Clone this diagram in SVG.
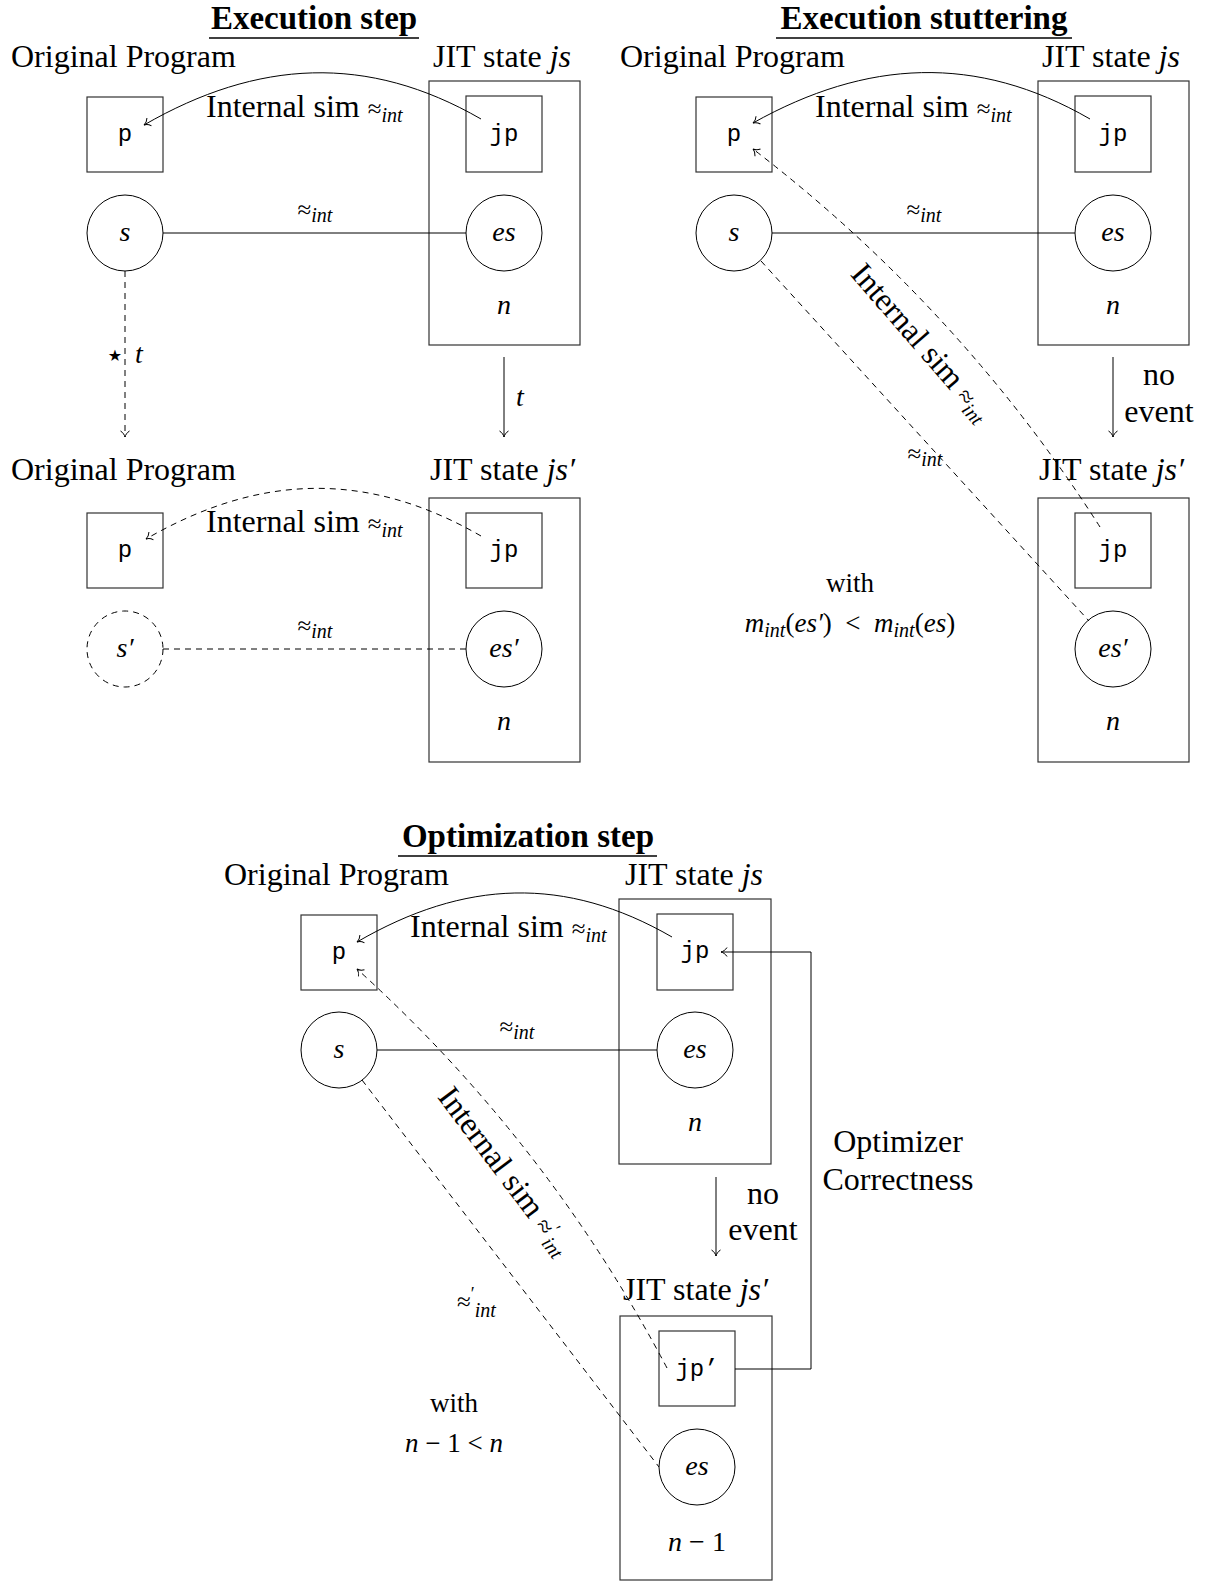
<svg xmlns="http://www.w3.org/2000/svg" width="1213" height="1581" viewBox="0 0 1213 1581">
<style>
.t{font-family:"Liberation Serif","DejaVu Serif",serif;font-size:32px;fill:#000}
.ti{font-style:italic}
.sm{font-size:28px}
.xs{font-size:27px}
.m{font-family:"Liberation Mono","DejaVu Sans Mono",monospace;font-size:24px;fill:#000}
.b{font-weight:bold;font-size:33px}
.sub{font-size:20px;font-style:italic}
.apx{font-size:25px;font-style:normal}
.box{fill:none;stroke:#333;stroke-width:1.2}
.ln{fill:none;stroke:#000;stroke-width:1}
.dash{stroke-dasharray:6 5}
.ul{stroke:#000;stroke-width:1.4}
</style>
<defs>
<marker id="arr" markerUnits="userSpaceOnUse" orient="auto" refX="0" refY="0" markerWidth="12" markerHeight="12" overflow="visible">
<path d="M-6,-4.5 C-4.5,-2 -2,-0.5 0,0 C-2,0.5 -4.5,2 -6,4.5" fill="none" stroke="#000" stroke-width="1"/>
</marker>
</defs>
<rect width="1213" height="1581" fill="#fff"/>

<!-- ===== Panel 1: Execution step ===== -->
<g id="title-exec-step">
<text class="t b" x="314" y="29" text-anchor="middle">Execution step</text>
<line class="ul" x1="209" y1="38" x2="419" y2="38"/>
</g>
<g id="p1-orig-label"><text class="t" x="11" y="67">Original Program</text></g>
<g id="p1-js"><text class="t" x="433" y="67">JIT state <tspan class="ti">js</tspan></text>
<rect class="box" x="429" y="81" width="151" height="264"/></g>
<g id="p1-p"><rect class="box" x="87" y="97" width="76" height="75"/><text class="m" x="125" y="141" text-anchor="middle">p</text></g>
<g id="p1-jp"><rect class="box" x="466" y="96" width="76" height="76"/><text class="m" x="504" y="141" text-anchor="middle">jp</text></g>
<g id="p1-s"><circle class="ln" cx="125" cy="233" r="38"/><text class="t ti sm" x="125" y="241" text-anchor="middle">s</text></g>
<g id="p1-es"><circle class="ln" cx="504" cy="233" r="38"/><text class="t ti sm" x="504" y="241" text-anchor="middle">es</text></g>
<g id="p1-n"><text class="t ti sm" x="504" y="314" text-anchor="middle">n</text></g>

<g id="p1b-orig-label"><text class="t" x="11" y="480">Original Program</text></g>
<g id="p1b-js"><text class="t" x="430" y="480">JIT state <tspan class="ti">js′</tspan></text>
<rect class="box" x="429" y="498" width="151" height="264"/></g>
<g id="p1b-p"><rect class="box" x="87" y="513" width="76" height="75"/><text class="m" x="125" y="557" text-anchor="middle">p</text></g>
<g id="p1b-jp"><rect class="box" x="466" y="513" width="76" height="75"/><text class="m" x="504" y="557" text-anchor="middle">jp</text></g>
<g id="p1b-s"><circle class="ln dash" cx="125" cy="649" r="38"/><text class="t ti sm" x="125" y="657" text-anchor="middle">s′</text></g>
<g id="p1b-es"><circle class="ln" cx="504" cy="649" r="38"/><text class="t ti sm" x="504" y="657" text-anchor="middle">es′</text></g>
<g id="p1b-n"><text class="t ti sm" x="504" y="730" text-anchor="middle">n</text></g>

<!-- ===== Panel 2: Execution stuttering ===== -->
<g id="title-exec-stutter">
<text class="t b" x="924" y="29" text-anchor="middle">Execution stuttering</text>
<line class="ul" x1="776" y1="38" x2="1072" y2="38"/>
</g>
<g id="p2-orig-label"><text class="t" x="620" y="67">Original Program</text></g>
<g id="p2-js"><text class="t" x="1042" y="67">JIT state <tspan class="ti">js</tspan></text>
<rect class="box" x="1038" y="81" width="151" height="264"/></g>
<g id="p2-p"><rect class="box" x="696" y="97" width="76" height="75"/><text class="m" x="734" y="141" text-anchor="middle">p</text></g>
<g id="p2-jp"><rect class="box" x="1075" y="96" width="76" height="76"/><text class="m" x="1113" y="141" text-anchor="middle">jp</text></g>
<g id="p2-s"><circle class="ln" cx="734" cy="233" r="38"/><text class="t ti sm" x="734" y="241" text-anchor="middle">s</text></g>
<g id="p2-es"><circle class="ln" cx="1113" cy="233" r="38"/><text class="t ti sm" x="1113" y="241" text-anchor="middle">es</text></g>
<g id="p2-n"><text class="t ti sm" x="1113" y="314" text-anchor="middle">n</text></g>

<g id="p2b-js"><text class="t" x="1039" y="480">JIT state <tspan class="ti">js′</tspan></text>
<rect class="box" x="1038" y="498" width="151" height="264"/></g>
<g id="p2b-jp"><rect class="box" x="1075" y="513" width="76" height="75"/><text class="m" x="1113" y="557" text-anchor="middle">jp</text></g>
<g id="p2b-es"><circle class="ln" cx="1113" cy="649" r="38"/><text class="t ti sm" x="1113" y="657" text-anchor="middle">es′</text></g>
<g id="p2b-n"><text class="t ti sm" x="1113" y="730" text-anchor="middle">n</text></g>
<g id="p2-with">
<text class="t xs" x="850" y="592" text-anchor="middle">with</text>
<text class="t xs" x="850" y="632" text-anchor="middle"><tspan class="ti">m</tspan><tspan class="sub" dy="5">int</tspan><tspan dy="-5">(</tspan><tspan class="ti">es′</tspan>)&#160; &lt; &#160;<tspan class="ti">m</tspan><tspan class="sub" dy="5">int</tspan><tspan dy="-5">(</tspan><tspan class="ti">es</tspan>)</text>
</g>

<!-- ===== Panel 3: Optimization step ===== -->
<g id="title-opt-step">
<text class="t b" x="528" y="847" text-anchor="middle">Optimization step</text>
<line class="ul" x1="398" y1="856" x2="657" y2="856"/>
</g>
<g id="p3-orig-label"><text class="t" x="224" y="885">Original Program</text></g>
<g id="p3-js"><text class="t" x="625" y="885">JIT state <tspan class="ti">js</tspan></text>
<rect class="box" x="619" y="899" width="152" height="265"/></g>
<g id="p3-p"><rect class="box" x="301" y="915" width="76" height="75"/><text class="m" x="339" y="959" text-anchor="middle">p</text></g>
<g id="p3-jp"><rect class="box" x="657" y="914" width="76" height="76"/><text class="m" x="695" y="958" text-anchor="middle">jp</text></g>
<g id="p3-s"><circle class="ln" cx="339" cy="1050" r="38"/><text class="t ti sm" x="339" y="1058" text-anchor="middle">s</text></g>
<g id="p3-es"><circle class="ln" cx="695" cy="1050" r="38"/><text class="t ti sm" x="695" y="1058" text-anchor="middle">es</text></g>
<g id="p3-n"><text class="t ti sm" x="695" y="1131" text-anchor="middle">n</text></g>

<g id="p3b-js"><text class="t" x="623" y="1300">JIT state <tspan class="ti">js′</tspan></text>
<rect class="box" x="620" y="1316" width="152" height="264"/></g>
<g id="p3b-jp"><rect class="box" x="659" y="1331" width="76" height="75"/><text class="m" x="697" y="1376" text-anchor="middle">jp’</text></g>
<g id="p3b-es"><circle class="ln" cx="697" cy="1467" r="38"/><text class="t ti sm" x="697" y="1475" text-anchor="middle">es</text></g>
<g id="p3b-n"><text class="t sm" x="697" y="1551" text-anchor="middle"><tspan class="ti">n</tspan> − 1</text></g>
<g id="p3-with">
<text class="t xs" x="454" y="1412" text-anchor="middle">with</text>
<text class="t xs" x="454" y="1452" text-anchor="middle"><tspan class="ti">n</tspan> − 1 &lt; <tspan class="ti">n</tspan></text>
</g>
<g id="p3-optlabel">
<text class="t" x="898" y="1152" text-anchor="middle">Optimizer</text>
<text class="t" x="898" y="1190" text-anchor="middle">Correctness</text>
</g>

<!-- ===== Connectors ===== -->
<g id="connectors">
<!-- panel 1 -->
<path class="ln" d="M481,119 C367.5,53.5 257.5,59.5 144,125" marker-end="url(#arr)"/>
<text class="t" x="206" y="117">Internal sim <tspan class="apx">≈</tspan><tspan class="sub" dy="5">int</tspan></text>
<line class="ln" x1="163" y1="233" x2="466" y2="233"/>
<text class="t" x="315" y="218" text-anchor="middle"><tspan class="apx">≈</tspan><tspan class="sub" dy="4">int</tspan></text>
<line class="ln dash" x1="125" y1="271" x2="125" y2="437" marker-end="url(#arr)"/>
<text x="115" y="361" text-anchor="middle" style="font-family:'DejaVu Sans',sans-serif;font-size:16px">★</text>
<text class="t ti sm" x="135" y="363">t</text>
<line class="ln" x1="504" y1="357" x2="504" y2="437" marker-end="url(#arr)"/>
<text class="t ti sm" x="516" y="406">t</text>

<path class="ln dash" d="M481,536 C367.5,470.5 259.5,473.5 146,539" marker-end="url(#arr)"/>
<text class="t" x="206" y="532">Internal sim <tspan class="apx">≈</tspan><tspan class="sub" dy="5">int</tspan></text>
<line class="ln dash" x1="163" y1="649" x2="466" y2="649"/>
<text class="t" x="315" y="634" text-anchor="middle"><tspan class="apx">≈</tspan><tspan class="sub" dy="4">int</tspan></text>

<!-- panel 2 -->
<path class="ln" d="M1090,119 C976.5,53.5 866.5,59.5 753,123" marker-end="url(#arr)"/>
<text class="t" x="815" y="117">Internal sim <tspan class="apx">≈</tspan><tspan class="sub" dy="5">int</tspan></text>
<line class="ln" x1="772" y1="233" x2="1075" y2="233"/>
<text class="t" x="924" y="218" text-anchor="middle"><tspan class="apx">≈</tspan><tspan class="sub" dy="4">int</tspan></text>
<line class="ln" x1="1113" y1="357" x2="1113" y2="437" marker-end="url(#arr)"/>
<text class="t" x="1159" y="385" text-anchor="middle">no</text>
<text class="t" x="1159" y="422" text-anchor="middle">event</text>
<path class="ln dash" d="M1100,527 Q960,308 753,149" marker-end="url(#arr)"/>
<text class="t" transform="translate(914,349) rotate(49)" text-anchor="middle">Internal sim <tspan class="apx">≈</tspan><tspan class="sub" dy="5">int</tspan></text>
<line class="ln dash" x1="761" y1="261" x2="1089" y2="621"/>
<text class="t" x="925" y="462" text-anchor="middle"><tspan class="apx">≈</tspan><tspan class="sub" dy="4">int</tspan></text>

<!-- panel 3 -->
<path class="ln" d="M672,937 C565.5,875.5 464.5,879.5 357,942" marker-end="url(#arr)"/>
<text class="t" x="410" y="937">Internal sim <tspan class="apx">≈</tspan><tspan class="sub" dy="5">int</tspan></text>
<line class="ln" x1="377" y1="1050" x2="657" y2="1050"/>
<text class="t" x="517" y="1035" text-anchor="middle"><tspan class="apx">≈</tspan><tspan class="sub" dy="4">int</tspan></text>
<line class="ln" x1="716" y1="1177" x2="716" y2="1256" marker-end="url(#arr)"/>
<text class="t" x="763" y="1204" text-anchor="middle">no</text>
<text class="t" x="763" y="1240" text-anchor="middle">event</text>
<path class="ln" d="M735,1369 H811 V952 H721" marker-end="url(#arr)"/>
<path class="ln dash" d="M667,1368 Q547,1141 357,969" marker-end="url(#arr)"/>
<text class="t" transform="translate(497,1177) rotate(53)" text-anchor="middle">Internal sim <tspan class="apx">≈</tspan><tspan font-size="18" dy="-9">′</tspan><tspan class="sub" dy="14">int</tspan></text>
<line class="ln dash" x1="362" y1="1080" x2="659" y2="1467"/>
<text class="t" x="457" y="1310"><tspan class="apx">≈</tspan><tspan font-size="18" dy="-10">′</tspan><tspan class="sub" dy="17">int</tspan></text>
</g>
</svg>
